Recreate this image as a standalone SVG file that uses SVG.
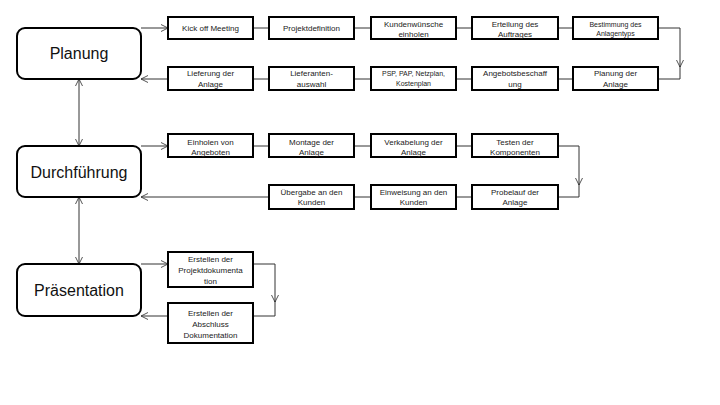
<svg xmlns="http://www.w3.org/2000/svg" width="720" height="405" viewBox="0 0 720 405">
<style>
.main{fill:#fff;stroke:#000;stroke-width:2}
.box{fill:#fff;stroke:#000;stroke-width:2}
.t{font-family:"Liberation Sans",Arial,sans-serif;font-size:8px;fill:#222;text-anchor:middle}
.s{font-size:7px}
.big{font-family:"Liberation Sans",Arial,sans-serif;font-size:16px;fill:#111;text-anchor:middle}
.c{fill:none;stroke:#333;stroke-width:1}
</style>
<defs>
<marker id="a" viewBox="0 0 10 10" refX="10" refY="5" markerWidth="7" markerHeight="9" markerUnits="userSpaceOnUse" orient="auto-start-reverse">
<path d="M0,0 L10,5 L0,10" fill="none" stroke="#333" stroke-width="1.2"/>
</marker>
</defs>
<rect width="720" height="405" fill="#fff"/>
<g id="connectors">
<path class="c" d="M141,28 H168" marker-end="url(#a)"/>
<path class="c" d="M253,28 H269 M354,28 H371 M456,28 H472 M558,28 H573"/>
<path class="c" d="M658,28 H680 V67" marker-end="url(#a)"/>
<path class="c" d="M680,66 V79 H658"/>
<path class="c" d="M253,79 H269 M354,79 H371 M456,79 H472 M558,79 H573"/>
<path class="c" d="M168,79 H141" marker-end="url(#a)"/>
<path class="c" d="M79,79 V146" marker-start="url(#a)" marker-end="url(#a)"/>
<path class="c" d="M141,146 H168" marker-end="url(#a)"/>
<path class="c" d="M253,146 H269 M354,146 H371 M456,146 H472"/>
<path class="c" d="M558,146 H579 V185" marker-end="url(#a)"/>
<path class="c" d="M579,184 V197 H558"/>
<path class="c" d="M354,197 H371 M456,197 H472"/>
<path class="c" d="M269,197 H141" marker-end="url(#a)"/>
<path class="c" d="M79,197 V264" marker-start="url(#a)" marker-end="url(#a)"/>
<path class="c" d="M141,264 H168" marker-end="url(#a)"/>
<path class="c" d="M253,264 H275 V302" marker-end="url(#a)"/>
<path class="c" d="M275,301 V316 H253"/>
<path class="c" d="M168,316 H141" marker-end="url(#a)"/>
</g>
<g id="planung"><rect class="main" x="17" y="28" width="124" height="51" rx="8"/><text class="big" x="79" y="59">Planung</text></g>
<g id="kickoff"><rect class="box" x="168" y="17" width="85" height="22"/><text class="t" x="210.5" y="31">Kick off Meeting</text></g>
<g id="projektdefinition"><rect class="box" x="269" y="17" width="85" height="22"/><text class="t" x="311.5" y="31">Projektdefinition</text></g>
<g id="kundenwuensche"><rect class="box" x="371" y="17" width="85" height="22"/><text class="t" x="413.5" y="26.5">Kundenwünsche</text><text class="t" x="413.5" y="36.5">einholen</text></g>
<g id="erteilung"><rect class="box" x="472" y="17" width="86" height="22"/><text class="t" x="515" y="26.5">Erteilung des</text><text class="t" x="515" y="36.5">Auftrages</text></g>
<g id="bestimmung"><rect class="box" x="573" y="17" width="85" height="22"/><text class="t s" x="615.5" y="26.5">Bestimmung des</text><text class="t s" x="615.5" y="36">Anlagentyps</text></g>
<g id="lieferung"><rect class="box" x="168" y="67" width="85" height="23"/><text class="t" x="210.5" y="76">Lieferung der</text><text class="t" x="210.5" y="87">Anlage</text></g>
<g id="lieferantenauswahl"><rect class="box" x="269" y="67" width="85" height="23"/><text class="t" x="311.5" y="76">Lieferanten-</text><text class="t" x="311.5" y="87">auswahl</text></g>
<g id="psp"><rect class="box" x="371" y="67" width="85" height="23"/><text class="t s" x="413.5" y="76">PSP, PAP, Netzplan,</text><text class="t s" x="413.5" y="86">Kostenplan</text></g>
<g id="angebotsbeschaffung"><rect class="box" x="472" y="67" width="86" height="23"/><text class="t" x="515" y="76">Angebotsbeschaff</text><text class="t" x="515" y="87">ung</text></g>
<g id="planungderanlage"><rect class="box" x="573" y="67" width="85" height="23"/><text class="t" x="615.5" y="76">Planung der</text><text class="t" x="615.5" y="87">Anlage</text></g>
<g id="durchfuehrung"><rect class="main" x="17" y="146" width="124" height="51" rx="8"/><text class="big" x="79" y="178">Durchführung</text></g>
<g id="einholen"><rect class="box" x="168" y="134" width="85" height="23"/><text class="t" x="210.5" y="145">Einholen von</text><text class="t" x="210.5" y="155">Angeboten</text></g>
<g id="montage"><rect class="box" x="269" y="134" width="85" height="23"/><text class="t" x="311.5" y="145">Montage der</text><text class="t" x="311.5" y="155">Anlage</text></g>
<g id="verkabelung"><rect class="box" x="371" y="134" width="85" height="23"/><text class="t" x="413.5" y="145">Verkabelung der</text><text class="t" x="413.5" y="155">Anlage</text></g>
<g id="testen"><rect class="box" x="472" y="134" width="86" height="23"/><text class="t" x="515" y="145">Testen der</text><text class="t" x="515" y="155">Komponenten</text></g>
<g id="uebergabe"><rect class="box" x="269" y="185" width="85" height="24"/><text class="t" x="311.5" y="195">Übergabe an den</text><text class="t" x="311.5" y="205">Kunden</text></g>
<g id="einweisung"><rect class="box" x="371" y="185" width="85" height="24"/><text class="t" x="413.5" y="195">Einweisung an den</text><text class="t" x="413.5" y="205">Kunden</text></g>
<g id="probelauf"><rect class="box" x="472" y="185" width="86" height="24"/><text class="t" x="515" y="195">Probelauf der</text><text class="t" x="515" y="205">Anlage</text></g>
<g id="praesentation"><rect class="main" x="17" y="264" width="124" height="52" rx="8"/><text class="big" x="79" y="296">Präsentation</text></g>
<g id="projektdoku"><rect class="box" x="168" y="252" width="85" height="35"/><text class="t" x="210.5" y="261.5">Erstellen der</text><text class="t" x="210.5" y="272.5">Projektdokumenta</text><text class="t" x="210.5" y="283.5">tion</text></g>
<g id="abschlussdoku"><rect class="box" x="168" y="303" width="85" height="40"/><text class="t" x="210.5" y="316">Erstellen der</text><text class="t" x="210.5" y="327">Abschluss</text><text class="t" x="210.5" y="338">Dokumentation</text></g>
</svg>
